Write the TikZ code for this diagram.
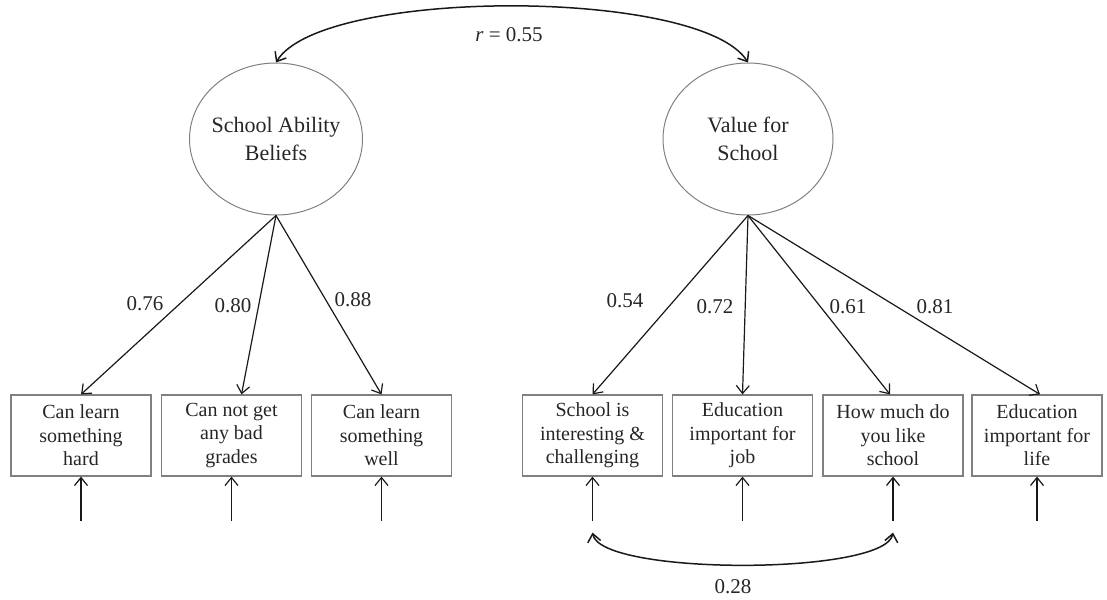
\documentclass[tikz,border=0pt]{standalone}
\usepackage{fontspec}
\setmainfont{Liberation Serif}
\usetikzlibrary{shapes.geometric,arrows.meta,positioning}

\tikzset{
  latent/.style={ellipse,draw=black!50,line width=1pt,minimum width=173pt,minimum height=152pt,
    inner xsep=-12pt,align=center,text=black!85,font=\fontsize{22}{28}\selectfont},
  item/.style={rectangle,draw=black!50,line width=1.2pt,minimum width=140pt,minimum height=81pt,
    inner sep=0pt,align=center,text=black!85,font=\fontsize{20}{23.5}\selectfont},
  load/.style={-{Straight Barb[length=8pt,width=13pt]},line width=1.2pt,black!90},
  cov/.style={{Straight Barb[length=8pt,width=13pt]}-{Straight Barb[length=8pt,width=13pt]},line width=1.5pt,black!90},
  coef/.style={text=black!85,font=\fontsize{21}{24}\selectfont}
}

\begin{document}
\begin{tikzpicture}[x=1pt,y=-1pt]
    \useasboundingbox (0,0) rectangle (1107,599);

    % latent factors
    \node[latent] (sab) at (276,139) {School Ability\\Beliefs};
    \node[latent,minimum width=170pt] (vfs) at (748,139) {Value for\\School};

    % indicators
    \foreach \name/\x/\txt in {sab1/81/{Can learn\\something\\hard},sab2/231.5/{Can not get\\any bad\\grades},
        sab3/381.5/{Can learn\\something\\well},vfs1/592.5/{School is\\interesting \&\\challenging},
        vfs2/742.5/{Education\\important for\\job},vfs3/893/{How much do\\you like\\school}} {
      \node[item] (\name) at (\x,435.5) {\txt};
    }
    \node[item,minimum width=130pt] (vfs4) at (1037,435.5) {Education\\important for\\life};

    % error terms
    \foreach \name in {sab1,sab2,sab3,vfs1,vfs2,vfs3,vfs4} {
      \coordinate (\name e) at ([yshift=-44pt]\name.south);
      \draw[load] (\name e) -- (\name.south);
    }

    % loadings
    \draw[load] (sab.south) -- (sab1.north);
    \draw[load] (sab.south) -- ([xshift=10pt]sab2.north);
    \draw[load] (sab.south) -- (sab3.north);
    \draw[load] (vfs.south) -- (vfs1.north);
    \draw[load] (vfs.south) -- (vfs2.north);
    \draw[load] (vfs.south) -- ([xshift=-3pt]vfs3.north);
    \draw[load] (vfs.south) -- ([xshift=3pt]vfs4.north);

    \node[coef] (c1) at (145,304) {0.76};
    \node[coef] (c2) at (233,306) {0.80};
    \node[coef] (c3) at (353,300) {0.88};
    \node[coef] (c4) at (625,301) {0.54};
    \node[coef] (c5) at (715,307) {0.72};
    \node[coef] (c6) at (848,307) {0.61};
    \node[coef] (c7) at (935,307) {0.81};

    % correlations
    \draw[cov] (sab.north) .. controls +(45,-75) and +(-47,-75) .. (vfs.north);
    \node[coef] (rlab) at (509,35) {\textit{r} = 0.55};

    \coordinate (cl) at ([yshift=-12pt]vfs1e);
    \coordinate (cr) at ([yshift=-12pt]vfs3e);
    \draw[cov] (cl) .. controls +(8,43) and +(-8,43) .. (cr);
    \node[coef] (clab) at (733,587) {0.28};
\end{tikzpicture}
\end{document}
